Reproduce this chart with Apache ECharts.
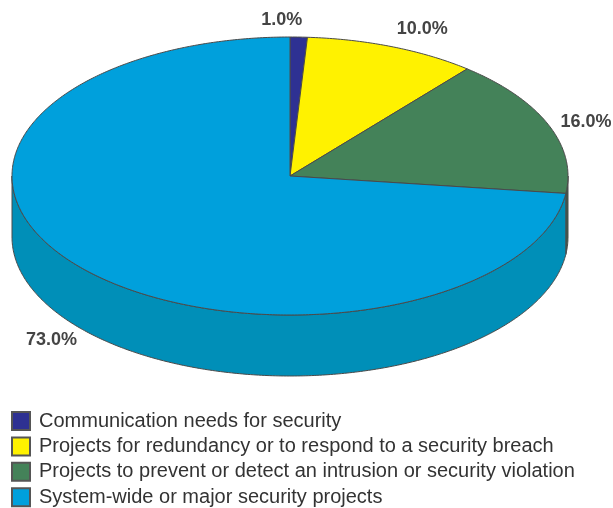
<!DOCTYPE html>
<html><head><meta charset="utf-8">
<style>html,body{margin:0;padding:0;background:#fff}#c{width:613px;height:508px}</style>
<script src="https://cdn.jsdelivr.net/npm/echarts@6/dist/echarts.min.js"></script>
</head><body><div id="c"></div>
<script>
const categories = [
  'Communication needs for security',
  'Projects for redundancy or to respond to a security breach',
  'Projects to prevent or detect an intrusion or security violation',
  'System-wide or major security projects'
];
const shares = [1.0, 10.0, 16.0, 73.0];
const topColors = ['#2e3192', '#fff200', '#448259', '#00a0dc'];
const sideColors = ['#232670', '#c9bf00', '#3f5f4c', '#008fb8'];
const labelNudge = [[-17, -17], [30, -18], [37.5, -3], [-30, 72]];

const CX = 290, CY = 176, RX = 278, RY = 139, DEPTH = 61, OUTLINE = '#4a4a4a';
const total = shares.reduce((a, b) => a + b, 0);
const starts = shares.map((_, i) => shares.slice(0, i).reduce((a, b) => a + b, 0) / total * 2 * Math.PI);
const pt = (t, dy) => [CX + RX * Math.sin(t), CY - RY * Math.cos(t) + (dy || 0)];
function arc(a, b, dy) {
  const n = Math.max(2, Math.ceil((b - a) / 0.01)), out = [];
  for (let k = 0; k <= n; k++) out.push(pt(a + (b - a) * k / n, dy));
  return out;
}
function renderSlice(i) {
  return function (params, api) {
    const a = starts[i], b = a + api.value(0) / total * 2 * Math.PI;
    const kids = [];
    const sa = Math.max(a, Math.PI / 2), sb = Math.min(b, 3 * Math.PI / 2);
    if (sb > sa) {
      kids.push({
        type: 'polygon',
        shape: { points: arc(sa, sb, 0).concat(arc(sa, sb, DEPTH).reverse()) },
        style: { fill: sideColors[i], stroke: OUTLINE, lineWidth: 1 }
      });
    }
    kids.push({
      type: 'polygon',
      shape: { points: [[CX, CY]].concat(arc(a, b, 0)) },
      style: { fill: topColors[i], stroke: OUTLINE, lineWidth: 1, lineJoin: 'round' }
    });
    const m = pt((a + b) / 2);
    kids.push({
      type: 'text',
      style: {
        x: m[0] + labelNudge[i][0], y: m[1] + labelNudge[i][1],
        text: api.value(0).toFixed(1) + '%',
        fill: '#444', font: 'bold 18px "Liberation Sans", Arial, sans-serif',
        align: 'center', verticalAlign: 'middle'
      }
    });
    return { type: 'group', children: kids };
  };
}
const chart = echarts.init(document.getElementById('c'), null, { renderer: 'canvas' });
chart.setOption({
  animation: false,
  backgroundColor: '#fff',
  legend: {
    orient: 'vertical', left: 11, top: 411, height: 97, width: 600,
    itemWidth: 18, itemHeight: 18, itemGap: 5.4,
    icon: 'rect', padding: 0,
    data: categories,
    textStyle: { fontFamily: '"Liberation Sans", Arial, sans-serif', fontSize: 20, lineHeight: 18, color: '#333', padding: [0, 0, 0, 4] }
  },
  series: categories.map((name, i) => ({
    type: 'custom',
    name,
    coordinateSystem: 'none',
    itemStyle: { color: topColors[i], borderColor: '#555', borderWidth: 1 },
    renderItem: renderSlice(i),
    data: [[shares[i]]]
  }))
});
</script></body></html>
